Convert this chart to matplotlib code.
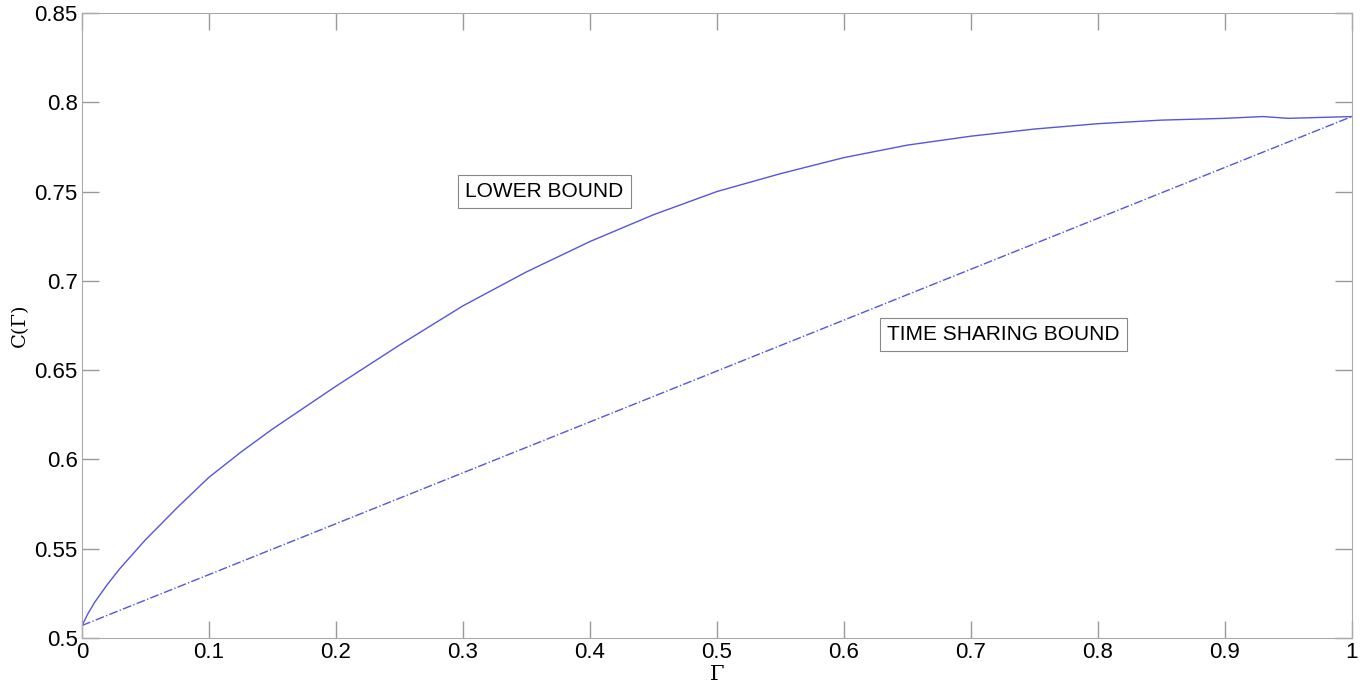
import matplotlib.pyplot as plt
import numpy as np

gamma = [0.0, 0.005, 0.01, 0.02, 0.03, 0.05, 0.075, 0.1, 0.125, 0.15, 0.2, 0.25,
         0.3, 0.35, 0.4, 0.45, 0.5, 0.55, 0.6, 0.65, 0.7, 0.75, 0.8, 0.85,
         0.9, 0.93, 0.95, 1.0]
lower_bound = [0.507, 0.514, 0.52, 0.53, 0.539, 0.555, 0.573, 0.59, 0.604,
               0.617, 0.641, 0.664, 0.686, 0.705, 0.722, 0.737, 0.750, 0.760,
               0.769, 0.776, 0.781, 0.785, 0.788, 0.790, 0.791, 0.792, 0.791,
               0.792]
time_share_x = [0.0, 1.0]
time_share_y = [0.507, 0.792]

plt.rcParams['font.family'] = ['Liberation Sans', 'DejaVu Sans']

fig = plt.figure(figsize=(13.71, 6.83), dpi=100)
ax = fig.add_axes([0.0598, 0.0659, 0.9262, 0.9151])

ax.plot(gamma, lower_bound, color='#5555dd', linewidth=1.0)
ax.plot(time_share_x, time_share_y, color='#5555dd', linewidth=1.0, linestyle='-.')

ax.set_xlim(0, 1)
ax.set_ylim(0.5, 0.85)
ax.set_xticks(np.arange(0, 1.01, 0.1))
ax.set_xticklabels(['0', '0.1', '0.2', '0.3', '0.4', '0.5', '0.6', '0.7', '0.8', '0.9', '1'])
ax.set_yticks(np.arange(0.5, 0.851, 0.05))
ax.set_yticklabels(['0.5', '0.55', '0.6', '0.65', '0.7', '0.75', '0.8', '0.85'])
ax.tick_params(direction='in', length=12, width=1, color='#999999', labelsize=16,
               top=True, right=True, pad=3)
for s in ax.spines.values():
    s.set_color('#aaaaaa')

ax.set_xlabel('Γ', family='DejaVu Serif', fontsize=15, labelpad=1)
ax.set_ylabel('C(Γ)', family='DejaVu Serif', fontsize=14, labelpad=4)

box = dict(boxstyle='square,pad=0.35', facecolor='white', edgecolor='#888888', linewidth=0.8)
ax.text(0.302, 0.750, 'LOWER BOUND', fontsize=15, va='center', ha='left', bbox=box)
ax.text(0.634, 0.670, 'TIME SHARING BOUND', fontsize=15, va='center', ha='left', bbox=box)

plt.savefig('out.png', dpi=100)
